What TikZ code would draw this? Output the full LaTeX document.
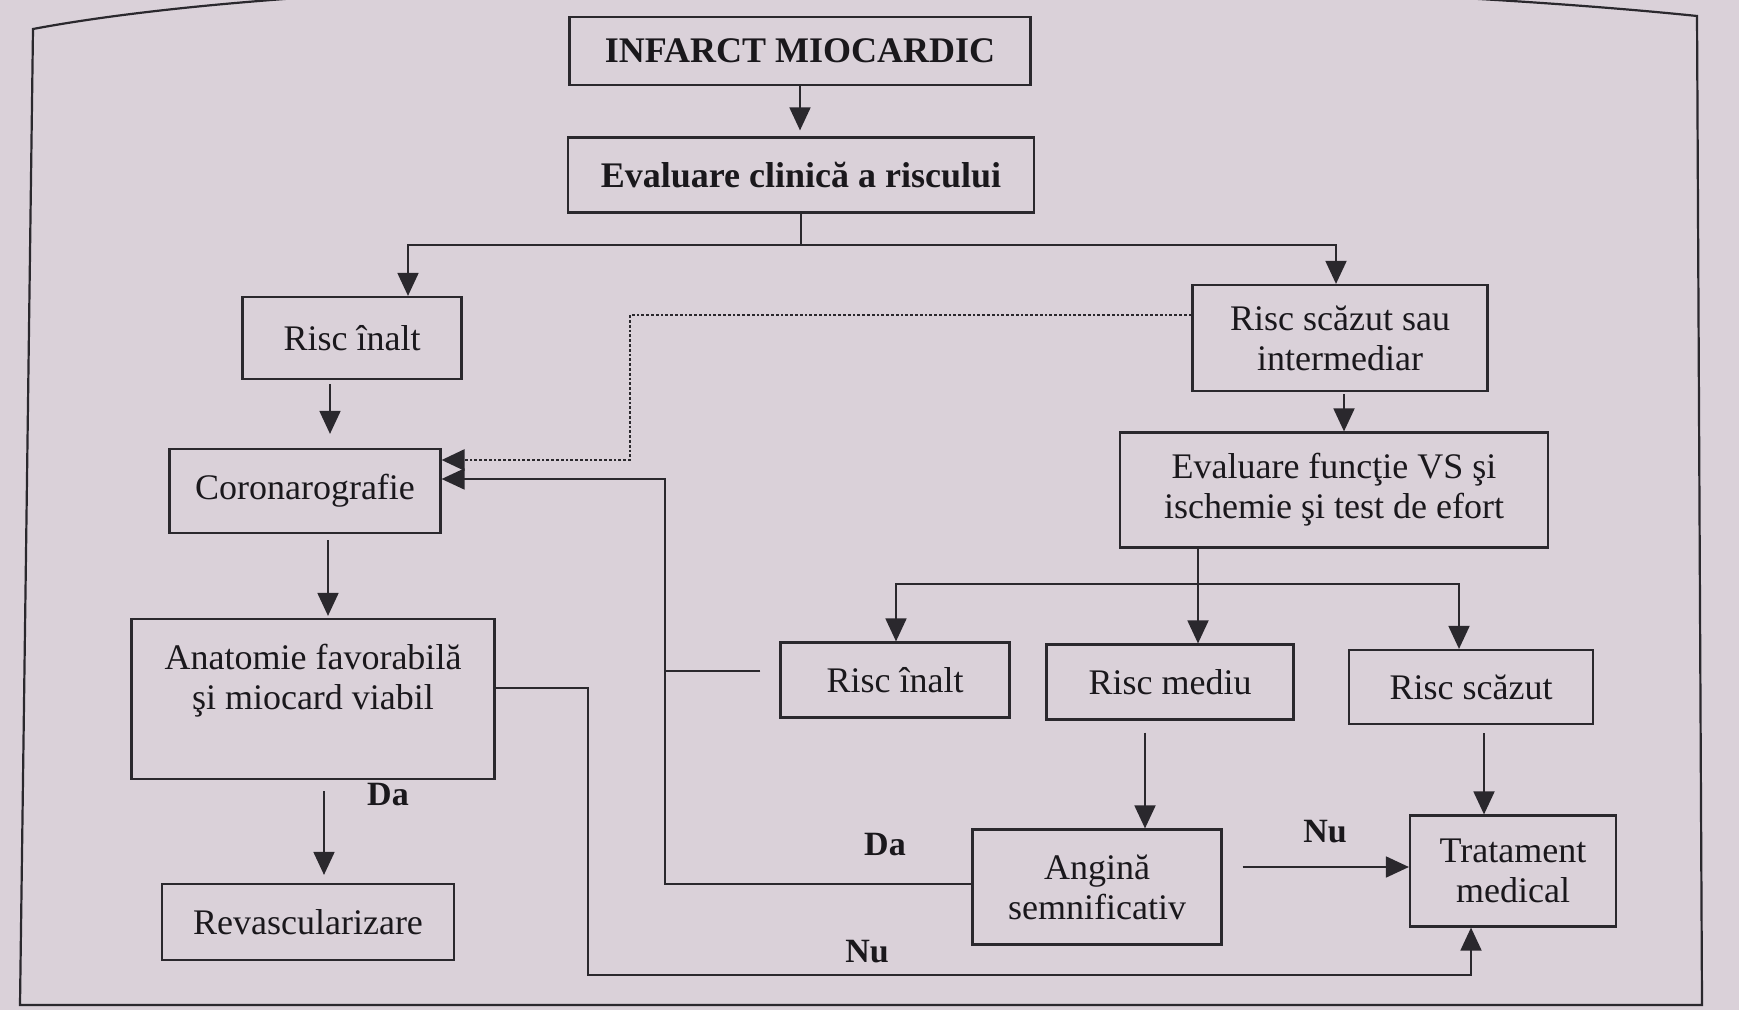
\documentclass[tikz,border=0pt]{standalone}
\usepackage{fontspec}
\setmainfont{Liberation Serif}
\usetikzlibrary{arrows.meta}
\definecolor{paper}{RGB}{218,209,217}
\definecolor{ink}{RGB}{26,24,28}
\definecolor{rule}{RGB}{42,40,45}

\begin{document}
\begin{tikzpicture}[x=0.5pt,y=-0.5pt,
  box/.style={draw=rule, line width=1.1pt, inner sep=0pt, align=center, text=ink,
    font=\fontsize{18}{20}\selectfont},
  wh/.style 2 args={minimum width=#1*0.5pt, minimum height=#2*0.5pt},
  bold/.style={font=\fontsize{18}{20}\selectfont\bfseries},
  txt/.style={text=ink, align=center, inner sep=0pt, font=\fontsize{18}{20}\selectfont},
  tag/.style={text=ink, inner sep=0pt, font=\fontsize{17}{20}\selectfont\bfseries},
  link/.style={draw=rule, line width=0.9pt},
  arr/.style={link, -{Triangle[length=11.5pt,width=10.5pt]}},
  dots/.style={draw=rule, line width=1.4pt, densely dotted,
    -{Triangle[length=11.5pt,width=10.5pt]}}]

% page and its (slightly curved) frame
\fill[paper] (0,0) rectangle (1739,1010);
\useasboundingbox (0,0) rectangle (1739,1010);
\draw[rule, line width=1.1pt] (20,1005) -- (33,29)
  .. controls (400,-40) and (1300,-25) .. (1697,16) -- (1702,1005) -- cycle;

% boxes
\node[box,bold,wh={461}{68}] (inf) at (800,51) {INFARCT MIOCARDIC};
\node[box,bold,wh={466}{75}] (eval) at (801,175) {Evaluare clinică a riscului};
\node[box,wh={219}{82}] (hi1) at (352,338) {Risc înalt};
\node[box,wh={295}{106}] (lowint) at (1340,338) {Risc scăzut sau\\intermediar};
\node[box,wh={271}{84}] (cor) at (305,491) {Coronarografie};
\node[box,wh={428}{115}] (evf) at (1334,490) {Evaluare funcţie VS şi\\ischemie şi test de efort};
\node[box,wh={229}{75}] (hi2) at (895,680) {Risc înalt};
\node[box,wh={247}{75}] (med) at (1170,682) {Risc mediu};
\node[box,wh={244}{74}] (low) at (1471,687) {Risc scăzut};
\node[box,wh={363}{160}] (anat) at (313,699) {};
\node[txt] (anattxt) at (313,681) {Anatomie favorabilă\\şi miocard viabil};
\node[box,wh={292}{76}] (rev) at (308,922) {Revascularizare};
\node[box,wh={249}{115}] (ang) at (1097,887) {Angină\\semnificativ};
\node[box,wh={206}{111}] (trat) at (1513,871) {Tratament\\medical};

% top of the tree
\draw[arr, shorten >=3pt] (inf.south) -- (inf.south |- eval.north);
\coordinate (split1) at (801,245);
\draw[link] (eval.south) -- (split1);
\draw[arr] (split1) -| (408,0 |- hi1.north);
\draw[arr] (split1) -| (1336,0 |- lowint.north);

% left column
\draw[arr, shorten <=2pt, shorten >=7pt] (330,0 |- hi1.south) -- (330,0 |- cor.north);
\draw[arr, shorten <=3pt, shorten >=1pt] (328,0 |- cor.south) -- (328,0 |- anat.north);
\draw[arr, shorten <=5.5pt, shorten >=4pt] (324,0 |- anat.south) -- (324,0 |- rev.north);
\node[tag] (da1) at (388,795) {Da};

% right column
\draw[arr, shorten <=1pt] (1344,0 |- lowint.south) -- (1344,0 |- evf.north);
\coordinate (split2) at (1198,584);
\draw[arr] (1198,0 |- evf.south) -- (1198,0 |- med.north);
\draw[arr] (split2) -| (896,0 |- hi2.north);
\draw[arr] (split2) -| (1459,0 |- low.north);
\draw[arr, shorten <=6pt] (1145,0 |- med.south) -- (1145,0 |- ang.north);
\draw[arr, shorten <=4pt] (1484,0 |- low.south) -- (1484,0 |- trat.north);
\draw[arr, shorten <=10pt] (ang.east |- 0,867) -- (trat.west |- 0,867);
\node[tag] (nu1) at (1325,832) {Nu};

% return paths to Coronarografie
\draw[arr] (ang.west |- 0,884) -- (665,884) -- (665,479) -- (cor.east |- 0,479);
\node[tag] (da2) at (885,845) {Da};
\draw[link, shorten <=9.5pt] (hi2.west |- 0,671) -- (665,671);
\draw[dots] (lowint.west |- 0,315) -- (630,315) -- (630,460) -- (cor.east |- 0,460);

% no favourable anatomy: medical treatment
\draw[arr] (anat.east |- 0,688) -- (588,688) -- (588,975) -- (1471,975) -- (1471,0 |- trat.south);
\node[tag] (nu2) at (867,952) {Nu};
\end{tikzpicture}
\end{document}
